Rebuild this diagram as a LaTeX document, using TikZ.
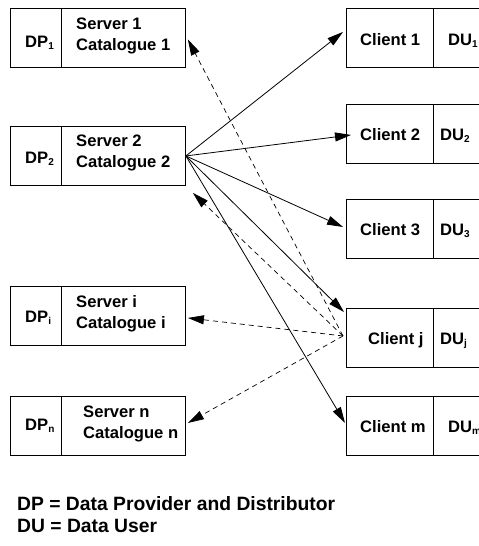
\documentclass[tikz,border=0pt]{standalone}
\usepackage{fontspec}
\setmainfont{Liberation Sans}
\usetikzlibrary{arrows.meta,calc}
% small lowered index used in the DP/DU labels
\newcommand\lowidx[1]{\raisebox{-2.5pt}{\fontsize{10}{10}\selectfont #1}}
\tikzset{
  cell/.style={draw, line width=0.9pt, inner sep=0pt, minimum height=59pt, anchor=north west},
  lbl/.style={font=\fontsize{16.6}{21}\selectfont\bfseries, inner sep=0pt, align=left},
  legend/.style={font=\fontsize{19.3}{22}\selectfont\bfseries, inner sep=0pt, anchor=base west},
  link/.style={line width=0.8pt, -{Triangle[length=16pt,width=9pt]}},
  back/.style={link, line width=0.7pt, dash pattern=on 5pt off 4pt},
}
\begin{document}
\begin{tikzpicture}[x=1pt, y=-1pt]
\clip (0,0) rectangle (479,546);

% servers (provider side)
\foreach \n/\y in {1/8, 2/126, i/286, n/396}{
  \node[cell, minimum width=51pt]  (dp\n) at (10,\y) {};
  \node[cell, minimum width=124pt] (sv\n) at (61,\y) {};
}
% clients (user side)
\foreach \n/\y in {1/8, 2/104, 3/199, j/308, m/396}{
  \node[cell, minimum width=87pt] (cl\n) at (346,\y) {};
  \node[cell, minimum width=62pt] (du\n) at (433,\y) {};
}

% server texts
\node[lbl, anchor=west] (sv1t) at (76,36.3)  {Server 1\\Catalogue 1};
\node[lbl, anchor=west] (sv2t) at (76,152.7) {Server 2\\Catalogue 2};
\node[lbl, anchor=west] (svit) at (76,313.8) {Server i\\Catalogue i};
\node[lbl, anchor=west] (svnt) at (83,423.7) {Server n\\Catalogue n};

\node[lbl, anchor=base west] (dp1t) at (25,47)  {DP\lowidx{1}};
\node[lbl, anchor=base west] (dp2t) at (25,163) {DP\lowidx{2}};
\node[lbl, anchor=base west] (dpit) at (25,322) {DP\lowidx{i}};
\node[lbl, anchor=base west] (dpnt) at (25,430) {DP\lowidx{n}};

% client texts
\node[lbl, anchor=base west] (cl1t) at (360,45)  {Client 1};
\node[lbl, anchor=base west] (cl2t) at (360,140) {Client 2};
\node[lbl, anchor=base west] (cl3t) at (360,235) {Client 3};
\node[lbl, anchor=base west] (cljt) at (368,344) {Client j};
\node[lbl, anchor=base west] (clmt) at (360,432) {Client m};

\node[lbl, anchor=base west] (du1t) at (448,45)  {DU\lowidx{1}};
\node[lbl, anchor=base west] (du2t) at (440,140) {DU\lowidx{2}};
\node[lbl, anchor=base west] (du3t) at (440,235) {DU\lowidx{3}};
\node[lbl, anchor=base west] (dujt) at (440,344) {DU\lowidx{j}};
\node[lbl, anchor=base west] (dumt) at (448,432) {DU\lowidx{m}};

% distribution from server 2
\draw[link] (sv2.east) -- ([shift={(-3,-6)}]cl1.west);
\draw[link] (sv2.east) -- ([shift={(5,1)}]cl2.west);
\draw[link] (sv2.east) -- ([shift={(-3,-2)}]cl3.west);
\draw[link] (sv2.east) -- ([shift={(-2,4)}]clj.north west);
\draw[link] (sv2.east) -- ([shift={(-1,-3)}]clm.west);

% requests from client j
\coordinate (jsrc) at ([shift={(-3,-2)}]clj.west);
\draw[back] (jsrc) -- ([shift={(2,1.5)}]sv1.east);
\draw[back] (jsrc) -- ([shift={(7,7)}]sv2.south east);
\draw[back] (jsrc) -- ([shift={(2,2)}]svi.east);
\draw[back] (jsrc) -- ([shift={(2,-3)}]svn.east);

% legend
\node[legend] (leg1) at (17,510) {DP = Data Provider and Distributor};
\node[legend] (leg2) at (17,532) {DU = Data User};
\end{tikzpicture}
\end{document}
